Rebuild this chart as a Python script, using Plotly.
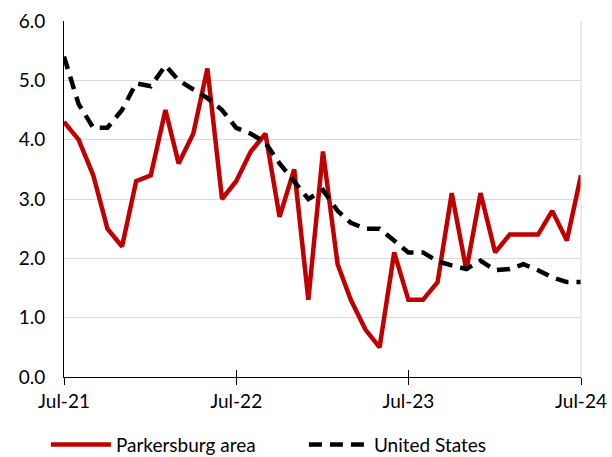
import plotly.graph_objects as go
import pandas as pd

months = pd.date_range("2021-07-01", "2024-07-01", freq="MS").strftime("%Y-%m-%d").tolist()

parkersburg = [4.3, 4.0, 3.4, 2.5, 2.2, 3.3, 3.4, 4.5, 3.6, 4.1, 5.2, 3.0,
               3.3, 3.8, 4.1, 2.7, 3.5, 1.3, 3.8, 1.9, 1.3, 0.8, 0.5, 2.1,
               1.3, 1.3, 1.6, 3.1, 1.8, 3.1, 2.1, 2.4, 2.4, 2.4, 2.8, 2.3, 3.4]

united_states = [5.4, 4.6, 4.2, 4.2, 4.5, 4.95, 4.9, 5.25, 5.0, 4.85, 4.7, 4.5,
                 4.2, 4.1, 3.95, 3.6, 3.3, 3.0, 3.15, 2.8, 2.6, 2.5, 2.5, 2.3,
                 2.1, 2.1, 1.95, 1.88, 1.82, 1.96, 1.8, 1.82, 1.9, 1.8, 1.68, 1.6, 1.6]

tick_vals = ["2021-07-01", "2022-07-01", "2023-07-01", "2024-07-01"]
tick_text = ["Jul-21", "Jul-22", "Jul-23", "Jul-24"]
y_ticks = [0, 1, 2, 3, 4, 5, 6]

FONT = "Lato, 'Liberation Sans', sans-serif"

fig = go.Figure()
fig.add_trace(go.Scatter(x=months, y=parkersburg, mode="lines", name="Parkersburg area",
                         line=dict(color="#C00000", width=4.5)))
fig.add_trace(go.Scatter(x=months, y=united_states, mode="lines", name="United States",
                         line=dict(color="#000000", width=4.5, dash="13px,8px")))
# invisible trace on overlay axis to show inside tick marks
fig.add_trace(go.Scatter(x=months, y=united_states, xaxis="x2", mode="lines",
                         line=dict(width=0), showlegend=False, hoverinfo="skip", opacity=0))

fig.update_layout(
    width=612, height=457,
    margin=dict(l=64, r=31, t=21, b=80, autoexpand=False),
    paper_bgcolor="white", plot_bgcolor="white",
    font=dict(family=FONT, size=19, color="#000000"),
    xaxis=dict(type="date", range=[tick_vals[0], tick_vals[-1]],
               tickvals=tick_vals, ticktext=tick_text, automargin=False,
               showgrid=False, showline=True, linecolor="#000000", linewidth=1,
               ticks="outside", ticklen=7, tickcolor="#000000", tickwidth=1,
               zeroline=False, tickfont=dict(size=19)),
    xaxis2=dict(type="date", range=[tick_vals[0], tick_vals[-1]], overlaying="x",
                tickvals=tick_vals, ticktext=["", "", "", ""], showgrid=False,
                ticks="inside", ticklen=7, tickcolor="#000000", tickwidth=1,
                side="bottom", anchor="y", showline=False, zeroline=False,
                automargin=False),
    yaxis=dict(range=[0, 6], tickvals=y_ticks, tickformat=".1f", automargin=False,
               showgrid=True, gridcolor="#D9D9D9", gridwidth=1,
               showline=True, linecolor="#000000", linewidth=1,
               zeroline=False, ticks="", ticklabelstandoff=14, tickfont=dict(size=19)),
    legend=dict(orientation="h", x=-0.035, xanchor="left", y=-0.19, yanchor="middle",
                font=dict(size=19), itemwidth=60, entrywidth=183, entrywidthmode="pixels",
                traceorder="normal"),
    shapes=[dict(type="line", xref="paper", yref="paper", x0=1, x1=1, y0=0, y1=1,
                 line=dict(color="#D9D9D9", width=1))],
)

fig.write_html("out.html", post_script="document.body.style.margin='0';",
               config={"displayModeBar": False})
